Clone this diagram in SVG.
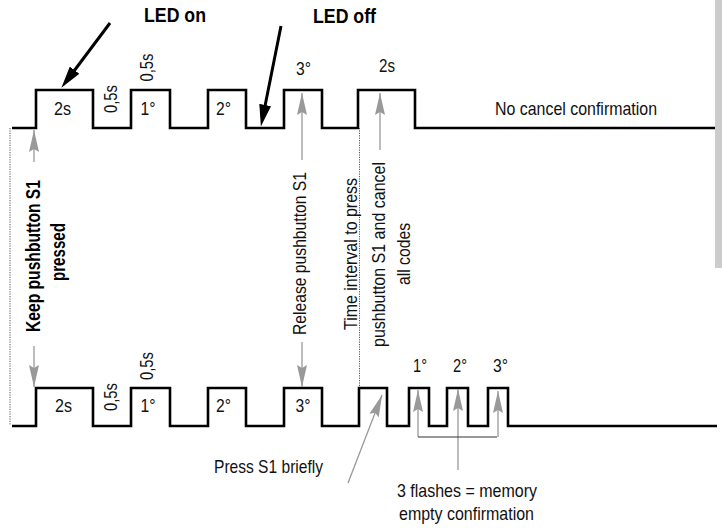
<svg xmlns="http://www.w3.org/2000/svg" width="722" height="528" viewBox="0 0 722 528">
<style>
.wave{fill:none;stroke:#000;stroke-width:2.6;stroke-linejoin:miter}
.dot{fill:none;stroke:#555;stroke-width:1;stroke-dasharray:1.2,1.2}
.garr{fill:none;stroke:#999;stroke-width:1.3;marker-end:url(#gh)}
.barr{fill:none;stroke:#000;stroke-width:3;marker-end:url(#bh)}
.t{font-family:"Liberation Sans",Arial,sans-serif;font-size:19px;fill:#111;text-anchor:middle}
.b{font-family:"Liberation Sans",Arial,sans-serif;font-size:20px;font-weight:bold;fill:#000;text-anchor:middle}
</style>
<defs>
<marker id="gh" markerUnits="userSpaceOnUse" viewBox="0 0 22 10" markerWidth="22" markerHeight="10" refX="22" refY="5" orient="auto">
<path d="M0,0 L22,5 L0,10 L3,5 z" fill="#999"/>
</marker>
<marker id="bh" markerUnits="userSpaceOnUse" viewBox="0 0 22 12" markerWidth="22" markerHeight="12" refX="1" refY="6" orient="auto">
<path d="M0,0 L22,6 L0,12 z" fill="#000"/>
</marker>
</defs>
<rect id="side-bar" x="715" y="0" width="7" height="268" fill="#cccccc"/>
<g id="top-wave">
<path class="wave" d="M12,128 H36 V90 H93 V128 H131 V90 H170 V128 H208 V90 H246 V128 H284 V90 H322 V128 H358 V90 H415 V128 H715"/>
</g>
<g id="bottom-wave">
<path class="wave" d="M12,426 H36 V388 H93 V426 H131 V388 H170 V426 H208 V388 H246 V426 H284 V388 H322 V426 H359 V388 H387 V426 H409 V388 H429 V426 H447 V388 H468 V426 H488 V388 H508 V426 H717"/>
</g>
<g id="connectors">
<path class="dot" d="M10,128 V425"/>
<path class="dot" d="M359.5,128 V387"/>
<path class="barr" d="M110,23 L74,71"/>
<path class="barr" d="M281,26 L265,106"/>
<path class="garr" d="M34,162 L34,130"/>
<path class="garr" d="M34,346 L34,387"/>
<path class="garr" d="M302,160 L302,93"/>
<path class="garr" d="M302,342 L302,387"/>
<path class="garr" d="M380,150 L380,93"/>
<path class="garr" d="M348,483 L382,395"/>
<path class="garr" d="M418,437 L418,390"/>
<path class="garr" d="M458,470 L458,389"/>
<path class="garr" d="M498,437 L498,391"/>
<path d="M418,437 H497" fill="none" stroke="#333" stroke-width="1"/>
</g>
<g id="led-labels">
<text class="b" x="175" y="22" textLength="62" lengthAdjust="spacingAndGlyphs">LED on</text>
<text class="b" x="344.5" y="23" textLength="63" lengthAdjust="spacingAndGlyphs">LED off</text>
</g>
<g id="top-labels">
<text class="t" x="62.5" y="115" textLength="17" lengthAdjust="spacingAndGlyphs">2s</text>
<text class="t" transform="translate(117,99) rotate(-90)" textLength="28" lengthAdjust="spacingAndGlyphs">0,5s</text>
<text class="t" transform="translate(153,67.5) rotate(-90)" textLength="28" lengthAdjust="spacingAndGlyphs">0,5s</text>
<text class="t" x="148" y="115" textLength="15" lengthAdjust="spacingAndGlyphs">1°</text>
<text class="t" x="223.5" y="115" textLength="15" lengthAdjust="spacingAndGlyphs">2°</text>
<text class="t" x="303.5" y="75" textLength="15" lengthAdjust="spacingAndGlyphs">3°</text>
<text class="t" x="387" y="72" textLength="16" lengthAdjust="spacingAndGlyphs">2s</text>
<text class="t" x="576" y="115" textLength="162" lengthAdjust="spacingAndGlyphs">No cancel confirmation</text>
</g>
<g id="keep-label">
<text class="b" transform="translate(40,256) rotate(-90)" textLength="152" lengthAdjust="spacingAndGlyphs">Keep pushbutton S1</text>
<text class="b" transform="translate(65,252) rotate(-90)" textLength="58" lengthAdjust="spacingAndGlyphs">pressed</text>
</g>
<g id="release-label">
<text class="t" transform="translate(306,253.5) rotate(-90)" textLength="163" lengthAdjust="spacingAndGlyphs">Release pushbutton S1</text>
</g>
<g id="interval-label">
<text class="t" transform="translate(357,254) rotate(-90)" textLength="152" lengthAdjust="spacingAndGlyphs">Time interval to press</text>
<text class="t" transform="translate(385,254.5) rotate(-90)" textLength="185" lengthAdjust="spacingAndGlyphs">pushbutton S1 and cancel</text>
<text class="t" transform="translate(410,254) rotate(-90)" textLength="62" lengthAdjust="spacingAndGlyphs">all codes</text>
</g>
<g id="bottom-labels">
<text class="t" x="63.5" y="412" textLength="17" lengthAdjust="spacingAndGlyphs">2s</text>
<text class="t" transform="translate(117,397) rotate(-90)" textLength="28" lengthAdjust="spacingAndGlyphs">0,5s</text>
<text class="t" transform="translate(153,366) rotate(-90)" textLength="28" lengthAdjust="spacingAndGlyphs">0,5s</text>
<text class="t" x="148" y="412" textLength="15" lengthAdjust="spacingAndGlyphs">1°</text>
<text class="t" x="223.5" y="412" textLength="15" lengthAdjust="spacingAndGlyphs">2°</text>
<text class="t" x="303" y="412" textLength="15" lengthAdjust="spacingAndGlyphs">3°</text>
<text class="t" x="420" y="372" textLength="14" lengthAdjust="spacingAndGlyphs">1°</text>
<text class="t" x="460" y="372" textLength="14" lengthAdjust="spacingAndGlyphs">2°</text>
<text class="t" x="500.5" y="372" textLength="15" lengthAdjust="spacingAndGlyphs">3°</text>
</g>
<g id="press-label">
<text class="t" x="268.5" y="473" textLength="109" lengthAdjust="spacingAndGlyphs">Press S1 briefly</text>
</g>
<g id="flashes-label">
<text class="t" x="467" y="497" textLength="140" lengthAdjust="spacingAndGlyphs">3 flashes = memory</text>
<text class="t" x="466.5" y="520" textLength="135" lengthAdjust="spacingAndGlyphs">empty confirmation</text>
</g>
</svg>
